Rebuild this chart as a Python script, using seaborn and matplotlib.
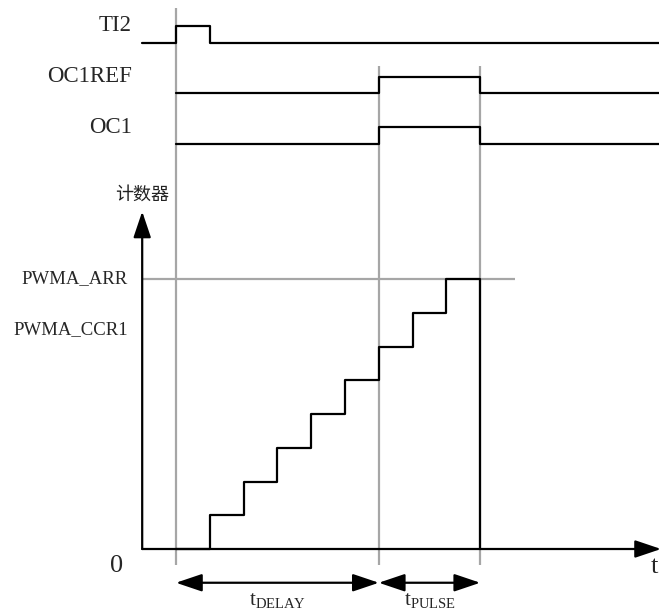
import matplotlib
matplotlib.use('Agg')
import matplotlib.pyplot as plt
import seaborn as sns
import pandas as pd

# 时间单位: 计数器时钟周期
t_end = 14.3

# 输入/输出信号 (时间, 电平)
ti2_t = [-1, 0, 1, t_end]
ti2_v = [0, 1, 0, 0]
oc1ref_t = [0, 6, 9, t_end]
oc1ref_v = [0, 1, 0, 0]
oc1_t = [0, 6, 9, t_end]
oc1_v = [0, 1, 0, 0]

signal_names = ['TI2', 'OC1REF', 'OC1']
signal_base = [15.0, 13.5, 12.0]
signal_amp = 0.5

# 计数器
cnt_t = [0, 1, 2, 3, 4, 5, 6, 7, 8, 9]
cnt_v = [0, 1, 2, 3, 4, 5, 6, 7, 8, 0]
arr_value = 8
ccr1_value = 6.5

# 事件时刻 (灰色参考线)
event_t = [0, 6, 9]
event_top = [16.03, 14.31, 14.31]

sns.set_style('white')
plt.rcParams['font.family'] = ['Liberation Serif', 'DejaVu Serif']
plt.rcParams['mathtext.fontset'] = 'custom'
plt.rcParams['mathtext.rm'] = 'Liberation Serif'

fig = plt.figure(figsize=(6.59, 6.14), dpi=100)
ax = fig.add_axes([0, 0, 1, 1])
ax.set_xlim(-5.207, 14.290)
ax.set_ylim(-1.926, 16.267)
ax.axis('off')

gray = '#a6a6a6'
lw = 1.6

# 灰色参考线
ax.vlines(event_t, -0.47, event_top, color=gray, lw=lw, zorder=1)
ax.hlines(arr_value, -1, 10.03, color=gray, lw=lw, zorder=1)

# 信号波形
sig_data = [(ti2_t, ti2_v), (oc1ref_t, oc1ref_v), (oc1_t, oc1_v)]
for name, base, (tt, vv) in zip(signal_names, signal_base, sig_data):
    df = pd.DataFrame({'t': tt, 'v': [base + signal_amp * v for v in vv]})
    sns.lineplot(data=df, x='t', y='v', ax=ax, color='black', lw=lw,
                 drawstyle='steps-post', estimator=None, sort=False, legend=False)
    ax.text(-1.30, base + signal_amp, name, ha='right', va='center', fontsize=16.5)

# 计数器阶梯
cnt_df = pd.DataFrame({'t': cnt_t, 'v': cnt_v})
sns.lineplot(data=cnt_df, x='t', y='v', ax=ax, color='black', lw=lw,
             drawstyle='steps-post', estimator=None, sort=False, legend=False)

# 坐标轴箭头
head = '-|>,head_length=0.8,head_width=0.27'
ax.annotate('', xy=(-1, 10.0), xytext=(-1, 0), annotation_clip=False,
            arrowprops=dict(arrowstyle=head, mutation_scale=20, color='black',
                            lw=lw, shrinkA=0, shrinkB=0))
ax.annotate('', xy=(t_end + 0.05, 0), xytext=(-1, 0), annotation_clip=False,
            arrowprops=dict(arrowstyle=head, mutation_scale=20, color='black',
                            lw=lw, shrinkA=0, shrinkB=0))

# 时间间隔标注
dhead = '<|-|>,head_length=0.8,head_width=0.27'
for a, b in [(0, 6), (6, 9)]:
    ax.annotate('', xy=(b, -1.0), xytext=(a, -1.0), annotation_clip=False,
                arrowprops=dict(arrowstyle=dhead, mutation_scale=20, color='black',
                                lw=lw, shrinkA=0, shrinkB=0))
ax.text(3.0, -1.55, r'$\mathrm{t}_{\mathrm{DELAY}}$', ha='center', va='center', fontsize=15)
ax.text(7.5, -1.55, r'$\mathrm{t}_{\mathrm{PULSE}}$', ha='center', va='center', fontsize=15)

# 轴标签
ax.text(-1.0, 10.49, '计数器', ha='center', va='center', fontsize=13,
        family=['Noto Sans CJK SC', 'DejaVu Sans'], color='#222222')
ax.text(-1.42, arr_value, 'PWMA_ARR', ha='right', va='center', fontsize=13.5)
ax.text(-1.42, ccr1_value, 'PWMA_CCR1', ha='right', va='center', fontsize=13.5)
ax.text(-1.75, -0.5, '0', ha='center', va='center', fontsize=19)
ax.text(14.05, -0.52, 't', ha='left', va='center', fontsize=19)

fig.savefig('out.png', dpi=100, facecolor='white')
